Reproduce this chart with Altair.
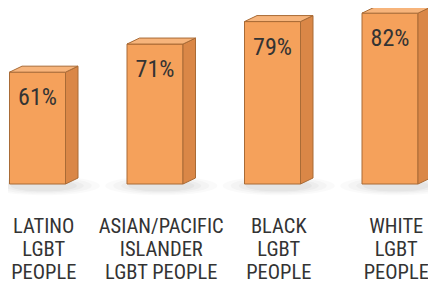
import altair as alt
import pandas as pd

# ---- data ----
categories = [
    "LATINO\nLGBT\nPEOPLE",
    "ASIAN/PACIFIC\nISLANDER\nLGBT PEOPLE",
    "BLACK\nLGBT\nPEOPLE",
    "WHITE\nLGBT\nPEOPLE",
]
values = [61, 71, 79, 82]
value_labels = ["61%", "71%", "79%", "82%"]

# ---- layout / style constants ----
W, H = 420, 279
STEP = 117.5         # pixels between bar centres
FIRST = 29.5         # pixel centre of the first bar
BASE = 21.2          # value at which the bars stand
HALF = 28 / STEP     # half width of the front face (x units)
DX = 12.5 / STEP     # depth of the 3D box, x units
DY = 2.135           # depth of the 3D box, y units
X_DOMAIN = [-FIRST / STEP, (W - FIRST) / STEP]
Y_DOMAIN = [-15.45, 83.83]
FRONT = "#F5A15B"
SIDE = "#DA8747"
TOP = "#F7B47B"
EDGE = "#A96B36"
TEXT = "#333333"
FONT = "Roboto Condensed, DejaVu Sans Condensed, sans-serif"

idx = list(range(len(values)))

front_df = pd.DataFrame({
    "idx": idx,
    "cat": categories,
    "value": values,
    "label": value_labels,
    "left": [i - HALF for i in idx],
    "right": [i + HALF for i in idx],
    "center": idx,
    "labx": [i + DX / 2 for i in idx],
    "base": [BASE] * len(idx),
})

side_rows, top_rows = [], []
for i, v in zip(idx, values):
    side_rows.append({"idx": i, "x": i + HALF, "top": v, "bottom": BASE})
    side_rows.append({"idx": i, "x": i + HALF + DX, "top": v + DY, "bottom": BASE + DY})
    top_rows.append({"idx": i, "y": v, "xl": i - HALF, "xr": i + HALF})
    top_rows.append({"idx": i, "y": v + DY, "xl": i - HALF + DX, "xr": i + HALF + DX})
side_df = pd.DataFrame(side_rows)
top_df = pd.DataFrame(top_rows)

shadow_df = pd.DataFrame({"x": [i + DX / 2 for i in idx], "y": [BASE - 0.6] * len(idx)})

xs = alt.Scale(domain=X_DOMAIN, nice=False, zero=False)
ys = alt.Scale(domain=Y_DOMAIN, nice=False, zero=False)

ELLIPSE = "M -1 0 A 1 0.17 0 1 0 1 0 A 1 0.17 0 1 0 -1 0 Z"
shadows = []
for w, op in [(112, 0.04), (96, 0.05), (80, 0.06), (66, 0.07)]:
    shadows.append(
        alt.Chart(shadow_df).mark_point(
            shape=ELLIPSE, filled=True, color="#808080", opacity=op, size=w * w, strokeWidth=0
        ).encode(
            x=alt.X("x:Q", scale=xs, axis=None),
            y=alt.Y("y:Q", scale=ys, axis=None),
        )
    )

front = alt.Chart(front_df).mark_rect(
    color=FRONT, stroke=EDGE, strokeWidth=1
).encode(
    x=alt.X("left:Q", scale=xs, axis=None),
    x2="right:Q",
    y=alt.Y("value:Q", scale=ys, axis=None),
    y2="base:Q",
)

side = alt.Chart(side_df).mark_area(
    orient="vertical", color=SIDE, stroke=EDGE, strokeWidth=1
).encode(
    x=alt.X("x:Q", scale=xs, axis=None),
    y=alt.Y("top:Q", scale=ys, axis=None),
    y2="bottom:Q",
    detail="idx:N",
)

topface = alt.Chart(top_df).mark_area(
    orient="horizontal", color=TOP, stroke=EDGE, strokeWidth=1
).encode(
    y=alt.Y("y:Q", scale=ys, axis=None),
    x=alt.X("xl:Q", scale=xs, axis=None),
    x2="xr:Q",
    detail="idx:N",
)

pct = alt.Chart(front_df).mark_text(
    font=FONT, fontSize=24, color=TEXT, baseline="alphabetic", align="center", dy=33
).encode(
    x=alt.X("center:Q", scale=xs, axis=None),
    y=alt.Y("value:Q", scale=ys, axis=None),
    text="label:N",
)

cats = alt.Chart(front_df).mark_text(
    font=FONT, fontSize=20.5, color=TEXT, baseline="alphabetic", align="center",
    lineBreak="\n", lineHeight=23
).encode(
    x=alt.X("labx:Q", scale=xs, axis=None),
    y=alt.value(225),
    text="cat:N",
)

chart = alt.layer(*shadows, front, side, topface, pct, cats).properties(
    width=W, height=H, autosize=alt.AutoSizeParams(type="none"), padding=0,
    background="white",
).configure_view(stroke=None)

chart.save("out.html", embed_options={"renderer": "svg", "actions": False})
